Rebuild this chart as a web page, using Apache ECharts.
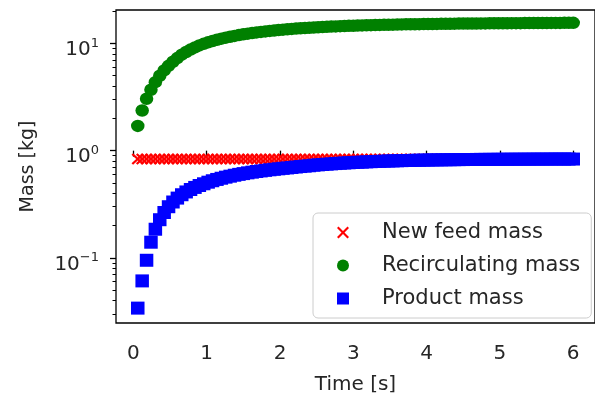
<!DOCTYPE html>
<html><head><meta charset="utf-8">
<script src="https://cdn.jsdelivr.net/npm/echarts@6/dist/echarts.min.js"></script>
<style>html,body{margin:0;padding:0;background:#fff}#c{width:595px;height:400px}</style>
</head><body><div id="c"></div>
<script>
const time = [
0.06,0.12,0.18,0.24,0.30,0.36,0.42,0.48,0.54,0.60,
0.66,0.72,0.78,0.84,0.90,0.96,1.02,1.08,1.14,1.20,
1.26,1.32,1.38,1.44,1.50,1.56,1.62,1.68,1.74,1.80,
1.86,1.92,1.98,2.04,2.10,2.16,2.22,2.28,2.34,2.40,
2.46,2.52,2.58,2.64,2.70,2.76,2.82,2.88,2.94,3.00,
3.06,3.12,3.18,3.24,3.30,3.36,3.42,3.48,3.54,3.60,
3.66,3.72,3.78,3.84,3.90,3.96,4.02,4.08,4.14,4.20,
4.26,4.32,4.38,4.44,4.50,4.56,4.62,4.68,4.74,4.80,
4.86,4.92,4.98,5.04,5.10,5.16,5.22,5.28,5.34,5.40,
5.46,5.52,5.58,5.64,5.70,5.76,5.82,5.88,5.94,6.00];

const newFeedMass = [
0.835,0.835,0.835,0.835,0.835,0.835,0.835,0.835,0.835,0.835,
0.835,0.835,0.835,0.835,0.835,0.835,0.835,0.835,0.835,0.835,
0.835,0.835,0.835,0.835,0.835,0.835,0.835,0.835,0.835,0.835,
0.835,0.835,0.835,0.835,0.835,0.835,0.835,0.835,0.835,0.835,
0.835,0.835,0.835,0.835,0.835,0.835,0.835,0.835,0.835,0.835,
0.835,0.835,0.835,0.835,0.835,0.835,0.835,0.835,0.835,0.835,
0.835,0.835,0.835,0.835,0.835,0.835,0.835,0.835,0.835,0.835,
0.835,0.835,0.835,0.835,0.835,0.835,0.835,0.835,0.835,0.835,
0.835,0.835,0.835,0.835,0.835,0.835,0.835,0.835,0.835,0.835,
0.835,0.835,0.835,0.835,0.835,0.835,0.835,0.835,0.835,0.835];

const recirculatingMass = [
1.70,2.37,3.05,3.70,4.35,5.00,5.60,6.18,6.75,7.30,
7.85,8.32,8.76,9.18,9.58,9.92,10.24,10.54,10.82,11.08,
11.32,11.55,11.76,11.96,12.15,12.33,12.50,12.66,12.81,12.95,
13.08,13.21,13.33,13.44,13.55,13.65,13.75,13.84,13.93,14.01,
14.09,14.16,14.23,14.30,14.36,14.42,14.48,14.53,14.58,14.63,
14.68,14.72,14.76,14.80,14.84,14.88,14.91,14.94,14.97,15.00,
15.03,15.06,15.08,15.11,15.13,15.15,15.17,15.19,15.21,15.23,
15.25,15.27,15.28,15.30,15.31,15.33,15.34,15.35,15.37,15.38,
15.39,15.40,15.41,15.42,15.43,15.44,15.45,15.46,15.47,15.48,
15.49,15.50,15.51,15.52,15.53,15.53,15.54,15.55,15.56,15.56];

const productMass = [
0.034,0.061,0.095,0.140,0.185,0.227,0.265,0.300,0.332,0.361,
0.388,0.412,0.434,0.454,0.473,0.491,0.508,0.524,0.539,0.553,
0.566,0.578,0.590,0.601,0.611,0.621,0.630,0.639,0.647,0.655,
0.663,0.670,0.677,0.684,0.690,0.697,0.704,0.711,0.717,0.723,
0.731,0.737,0.743,0.748,0.753,0.758,0.763,0.767,0.771,0.775,
0.779,0.782,0.786,0.789,0.792,0.795,0.798,0.800,0.803,0.805,
0.807,0.809,0.811,0.813,0.814,0.816,0.817,0.819,0.820,0.821,
0.822,0.823,0.824,0.825,0.826,0.827,0.827,0.828,0.829,0.829,
0.830,0.830,0.831,0.831,0.832,0.832,0.832,0.833,0.833,0.833,
0.834,0.834,0.834,0.834,0.835,0.835,0.835,0.835,0.835,0.835];

const seriesNames = ['New feed mass', 'Recirculating mass', 'Product mass'];
const xTicks = [0, 1, 2, 3, 4, 5, 6];
const yMajorTicks = [0.1, 1, 10];
const yMinorTicks = [0.03,0.04,0.05,0.06,0.07,0.08,0.09,0.2,0.3,0.4,0.5,0.6,0.7,0.8,0.9,2,3,4,5,6,7,8,9,20];
const xTitle = 'Time [s]';
const yTitle = 'Mass [kg]';

const X_MIN = -0.237, X_MAX = 6.297;
const Y_MIN = 0.0247, Y_MAX = 20.5;
const FONT = 'DejaVu Sans';
const TXT = '#262626';

function pts(ys) { return time.map((t, i) => [t, ys[i]]); }
const crossPath = 'path://M0,1.5L1.5,0L6,4.5L10.5,0L12,1.5L7.5,6L12,10.5L10.5,12L6,7.5L1.5,12L0,10.5L4.5,6Z';
const squarePath = 'path://M0,0L10,0L10,10L0,10Z';
const icons = [crossPath, 'circle', squarePath];

const chart = echarts.init(document.getElementById('c'), null, {renderer: 'canvas'});
chart.setOption({
  animation: false,
  grid: {left: 116, top: 10, right: -12.5, bottom: 73, show: true, borderColor: '#000', borderWidth: 1.3, backgroundColor: 'transparent'},
  xAxis: {
    type: 'value', min: X_MIN, max: X_MAX,
    name: xTitle, nameLocation: 'middle', nameGap: 52,
    nameTextStyle: {fontFamily: FONT, fontSize: 20, color: TXT},
    axisLine: {show: false},
    axisTick: {show: true, length: 6, customValues: xTicks, lineStyle: {color: '#000', width: 1.3}},
    axisLabel: {customValues: xTicks, margin: 21, fontFamily: FONT, fontSize: 20, color: TXT},
    splitLine: {show: false}
  },
  yAxis: [
    {type: 'log', logBase: 10, min: Y_MIN, max: Y_MAX,
     axisLine: {show: false}, axisTick: {show: false}, axisLabel: {show: false}, splitLine: {show: false}, minorTick: {show: false}},
    {type: 'value', min: Math.log10(Y_MIN), max: Math.log10(Y_MAX), position: 'left',
     name: yTitle, nameLocation: 'middle', nameGap: 78, nameRotate: 90,
     nameTextStyle: {fontFamily: FONT, fontSize: 19, color: TXT},
     axisLine: {show: false}, splitLine: {show: false},
     axisTick: {show: true, length: 6, customValues: yMajorTicks.map(Math.log10), lineStyle: {color: '#000', width: 1.3}},
     axisLabel: {customValues: yMajorTicks.map(Math.log10), margin: 17,
       formatter: function (v) { const e = Math.round(v); return '{g|}\n{b|10}{s|' + (e < 0 ? '\u2212' + (-e) : e) + '}'; },
       rich: {
         g: {fontSize: 1, lineHeight: 10, height: 10},
         b: {fontFamily: FONT, fontSize: 20, color: TXT, verticalAlign: 'bottom'},
         s: {fontFamily: FONT, fontSize: 13, color: TXT, verticalAlign: 'bottom', padding: [0, 0, 10, 0]}
       }}},
    {type: 'value', min: Math.log10(Y_MIN), max: Math.log10(Y_MAX), position: 'left',
     axisLine: {show: false}, splitLine: {show: false}, axisLabel: {show: false},
     axisTick: {show: true, length: 3.5, customValues: yMinorTicks.map(Math.log10), lineStyle: {color: '#000', width: 1}}}
  ],
  legend: {
    orient: 'vertical', left: 313, top: 213,
    padding: [9, 11, 9, 24], itemWidth: 12, itemHeight: 12, itemGap: 12,
    backgroundColor: 'rgba(255,255,255,0.8)', borderColor: '#cccccc', borderWidth: 1, borderRadius: 5,
    textStyle: {fontFamily: FONT, fontSize: 21, color: TXT, lineHeight: 20, padding: [0, 0, 0, 28]},
    data: seriesNames.map((n, i) => ({name: n, icon: icons[i]}))
  },
  series: [
    {name: seriesNames[0], type: 'scatter', yAxisIndex: 0, data: pts(newFeedMass), symbol: crossPath, symbolSize: [12.5, 11.5], itemStyle: {color: '#ff0000', opacity: 1}},
    {name: seriesNames[1], type: 'scatter', yAxisIndex: 0, data: pts(recirculatingMass), symbol: 'circle', symbolSize: [13.5, 12.5], itemStyle: {color: '#008000', opacity: 1}},
    {name: seriesNames[2], type: 'scatter', yAxisIndex: 0, data: pts(productMass), symbol: squarePath, symbolSize: [13.5, 13], symbolKeepAspect: false, itemStyle: {color: '#0000ff', opacity: 1}}
  ]
});
</script></body></html>
